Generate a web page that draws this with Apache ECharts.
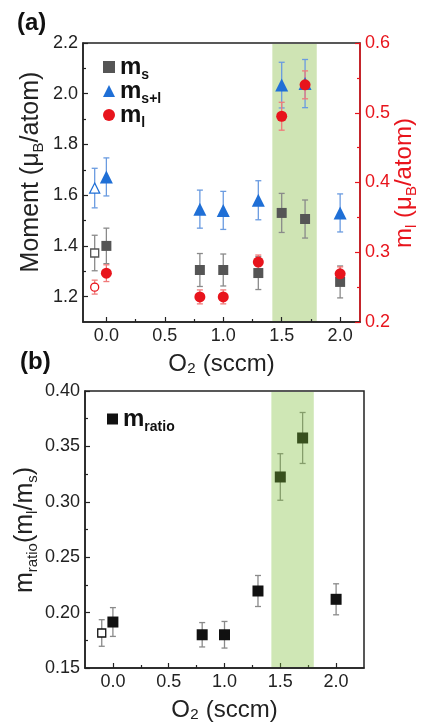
<!DOCTYPE html>
<html>
<head>
<meta charset="utf-8">
<script src="https://cdn.jsdelivr.net/npm/echarts@6/dist/echarts.min.js"></script>
<style>html,body{margin:0;padding:0;background:#fff;}#c{width:422px;height:725px;}</style>
</head>
<body>
<div id="c"></div>
<script>
// ---- data ----
const oxygen = [-0.1, 0.0, 0.8, 1.0, 1.3, 1.5, 1.7, 2.0];
const ms = [1.372, 1.400, 1.305, 1.305, 1.293, 1.530, 1.506, 1.258];
const msErr = [0.070, 0.070, 0.065, 0.063, 0.065, 0.077, 0.075, 0.063];
const msl = [1.628, 1.672, 1.545, 1.540, 1.580, 2.034, 2.040, 1.530];
const mslErr = [0.078, 0.075, 0.075, 0.075, 0.077, 0.090, 0.095, 0.075];
const ml = [0.250, 0.270, 0.236, 0.236, 0.286, 0.495, 0.540, 0.269];
const mlErr = [0.010, 0.012, 0.010, 0.010, 0.010, 0.020, 0.020, 0.010];
const ratio = [0.1816, 0.1915, 0.180, 0.180, 0.2195, 0.3224, 0.3576, 0.212];
const ratioErr = [0.012, 0.013, 0.011, 0.012, 0.014, 0.021, 0.023, 0.014];
const openIndex = 0;          // hollow marker (reference sample)
const band = [1.42, 1.80];    // shaded O2 range
const xTicks = [0.0, 0.5, 1.0, 1.5, 2.0];
const xMinor = [0.25, 0.75, 1.25, 1.75];
const yTicksA = [1.2, 1.4, 1.6, 1.8, 2.0, 2.2];
const yMinorA = [1.3, 1.5, 1.7, 1.9, 2.1];
const yTicksR = [0.2, 0.3, 0.4, 0.5, 0.6];
const yMinorR = [0.25, 0.35, 0.45, 0.55];
const yTicksB = [0.15, 0.20, 0.25, 0.30, 0.35, 0.40];
const yMinorB = [0.175, 0.225, 0.275, 0.325, 0.375];

const FONT = "'Liberation Sans', Arial, 'DejaVu Sans', sans-serif";
const INK = '#222';
const RED = '#e8141c';

function mainAxis(grid, min, max, ticks, digits, color, pos) {
  return {
    gridIndex: grid, type: 'value', min: min, max: max, position: pos,
    axisLine: {show: true, onZero: false, lineStyle: {color: color, width: 1.5}},
    axisTick: {show: true, inside: true, length: 5, customValues: ticks, lineStyle: {color: color, width: 1.2}},
    axisLabel: {show: true, customValues: ticks, formatter: v => v.toFixed(digits), fontSize: 18, color: color, fontFamily: FONT, margin: 5},
    splitLine: {show: false}, minorTick: {show: false}
  };
}
function minorAxis(grid, min, max, ticks, color, pos) {
  return {
    gridIndex: grid, type: 'value', min: min, max: max, position: pos,
    axisLine: {show: false, onZero: false},
    axisTick: {show: true, inside: true, length: 3, customValues: ticks, lineStyle: {color: color, width: 1.2}},
    axisLabel: {show: false}, splitLine: {show: false}
  };
}
function errSeries(xi, yi, xs, ys, es, color, z) {
  return {
    type: 'custom', xAxisIndex: xi, yAxisIndex: yi, silent: true, z: z,
    encode: {x: 0, y: 1},
    data: xs.map((x, i) => [x, ys[i], es[i]]),
    renderItem: function (params, api) {
      const x = api.value(0), y = api.value(1), e = api.value(2);
      const p1 = api.coord([x, y + e]);
      const p2 = api.coord([x, y - e]);
      const w = 3;
      const st = {stroke: color, lineWidth: 1.3};
      return {type: 'group', children: [
        {type: 'line', shape: {x1: p1[0], y1: p1[1], x2: p2[0], y2: p2[1]}, style: st},
        {type: 'line', shape: {x1: p1[0] - w, y1: p1[1], x2: p1[0] + w, y2: p1[1]}, style: st},
        {type: 'line', shape: {x1: p2[0] - w, y1: p2[1], x2: p2[0] + w, y2: p2[1]}, style: st}
      ]};
    }
  };
}
function bandSeries(xi, yi, fill, z) {
  return {
    type: 'custom', xAxisIndex: xi, yAxisIndex: yi, silent: true, z: z,
    encode: {x: [0, 1]},
    data: [[band[0], band[1]]],
    renderItem: function (params, api) {
      const cs = params.coordSys;
      const a = api.coord([api.value(0), 0])[0];
      const b = api.coord([api.value(1), 0])[0];
      return {type: 'rect', shape: {x: a, y: cs.y + 1, width: b - a, height: cs.height - 2}, style: {fill: fill}};
    }
  };
}
function points(name, xi, yi, xs, ys, symbol, size, color, openSize) {
  return {
    name: name, type: 'scatter', xAxisIndex: xi, yAxisIndex: yi, symbol: symbol, symbolSize: size, z: 5,
    itemStyle: {color: color, opacity: 1},
    data: xs.map((x, i) => i === openIndex
      ? {value: [x, ys[i]], symbolSize: openSize, itemStyle: {color: '#fff', borderColor: color, borderWidth: 1.3}}
      : [x, ys[i]])
  };
}

const legendRich = {
  m: {fontSize: 24, fontWeight: 'bold', fontFamily: FONT, color: '#111', lineHeight: 30},
  s: {fontSize: 14, fontWeight: 'bold', fontFamily: FONT, color: '#111', lineHeight: 1, verticalAlign: 'bottom'}
};
const legendText = {ms: '{m|m}{s|s}', msl: '{m|m}{s|s+l}', ml: '{m|m}{s|l}', ratio: '{m|m}{s|ratio}'};

const option = {
  animation: false,
  backgroundColor: '#fff',
  grid: [
    {left: 83, top: 43, width: 277, height: 279, show: true, borderColor: INK, borderWidth: 1.5, backgroundColor: 'transparent'},
    {left: 85, top: 391, width: 279, height: 277, show: true, borderColor: INK, borderWidth: 1.5, backgroundColor: 'transparent'}
  ],
  xAxis: [
    Object.assign(mainAxis(0, -0.2, 2.17, xTicks, 1, INK, 'bottom'), {name: 'O₂ (sccm)', nameLocation: 'middle', nameGap: 30, nameTextStyle: {fontSize: 24, color: INK, fontFamily: FONT}}),
    minorAxis(0, -0.2, 2.17, xMinor, INK, 'bottom'),
    Object.assign(mainAxis(1, -0.25, 2.25, xTicks, 1, INK, 'bottom'), {name: 'O₂ (sccm)', nameLocation: 'middle', nameGap: 30, nameTextStyle: {fontSize: 24, color: INK, fontFamily: FONT}}),
    minorAxis(1, -0.25, 2.25, xMinor, INK, 'bottom')
  ],
  yAxis: [
    mainAxis(0, 1.1, 2.2, yTicksA, 1, INK, 'left'),
    minorAxis(0, 1.1, 2.2, yMinorA, INK, 'left'),
    mainAxis(0, 0.2, 0.6, yTicksR, 1, RED, 'right'),
    minorAxis(0, 0.2, 0.6, yMinorR, RED, 'right'),
    mainAxis(1, 0.15, 0.40, yTicksB, 2, INK, 'left'),
    minorAxis(1, 0.15, 0.40, yMinorB, INK, 'left')
  ],
  legend: [
    {data: ['ms', 'msl', 'ml'], orient: 'vertical', left: 103, top: 55, padding: 0, itemWidth: 12, itemHeight: 12, itemGap: -3,
     formatter: n => legendText[n], textStyle: {rich: legendRich}},
    {data: ['ratio'], orient: 'vertical', left: 107, top: 407, padding: 0, itemWidth: 11, itemHeight: 11,
     formatter: n => legendText[n], textStyle: {rich: legendRich}}
  ],
  series: [
    bandSeries(0, 0, '#cfe4b4', 0),
    errSeries(0, 0, oxygen, ms, msErr, '#8a8a8a', 2),
    errSeries(0, 0, oxygen, msl, mslErr, '#6a9be0', 2),
    errSeries(0, 2, oxygen, ml, mlErr, '#f07a7a', 2),
    points('ms', 0, 0, oxygen, ms, 'rect', 10, '#555555', 8),
    points('msl', 0, 0, oxygen, msl, 'triangle', 13, '#1f6fd6', 10),
    points('ml', 0, 2, oxygen, ml, 'circle', 11, RED, 8),
    errSeries(2, 4, oxygen, ratio, ratioErr, '#8a8a8a', 2),
    points('ratio', 2, 4, oxygen, ratio, 'rect', 11, '#111111', 8),
    bandSeries(2, 4, 'rgba(125,190,55,0.37)', 10)
  ],
  graphic: [
    {type: 'text', left: 17, top: 11, style: {text: '(a)', fontSize: 24, fontWeight: 'bold', fontFamily: FONT, fill: '#111'}},
    {type: 'text', left: 20, top: 350, style: {text: '(b)', fontSize: 24, fontWeight: 'bold', fontFamily: FONT, fill: '#111'}},
    {type: 'text', x: 31, y: 172, rotation: Math.PI / 2, style: {
      text: '{a|Moment (μ}{b|B}{a|/atom)}', align: 'center', verticalAlign: 'middle',
      rich: {a: {fontSize: 25, fontFamily: FONT, fill: INK, lineHeight: 30}, b: {fontSize: 15, fontFamily: FONT, fill: INK, lineHeight: 12, verticalAlign: 'bottom'}}}},
    {type: 'text', x: 404, y: 183, rotation: Math.PI / 2, style: {
      text: '{a|m}{b|l}{a| (μ}{b|B}{a|/atom)}', align: 'center', verticalAlign: 'middle',
      rich: {a: {fontSize: 24, fontFamily: FONT, fill: RED, lineHeight: 30}, b: {fontSize: 15, fontFamily: FONT, fill: RED, lineHeight: 12, verticalAlign: 'bottom'}}}},
    {type: 'text', x: 25, y: 530, rotation: Math.PI / 2, style: {
      text: '{a|m}{b|ratio}{a|(m}{b|l}{a|/m}{b|s}{a|)}', align: 'center', verticalAlign: 'middle',
      rich: {a: {fontSize: 25, fontFamily: FONT, fill: INK, lineHeight: 30}, b: {fontSize: 15, fontFamily: FONT, fill: INK, lineHeight: 12, verticalAlign: 'bottom'}}}}
  ]
};
const chart = echarts.init(document.getElementById('c'), null, {renderer: 'canvas'});
chart.setOption(option);
</script>
</body>
</html>
